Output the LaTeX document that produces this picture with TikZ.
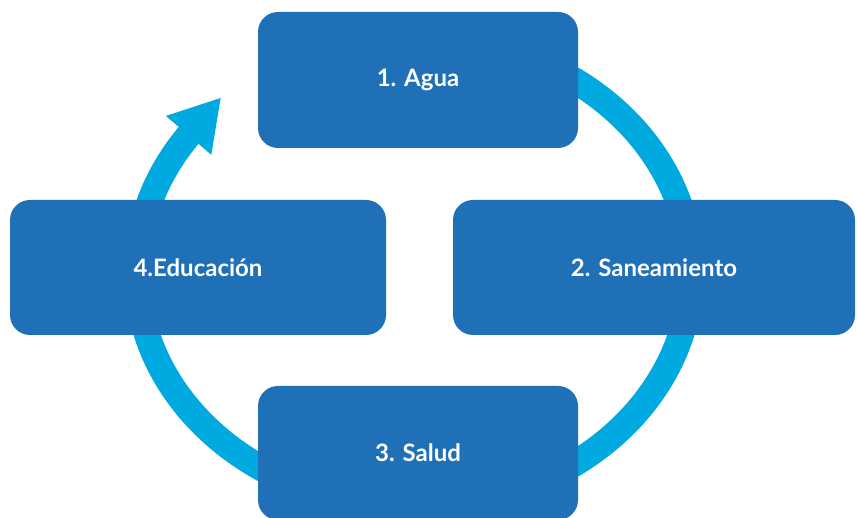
\documentclass[tikz,border=0pt]{standalone}
\usepackage{fontspec}
\setmainfont{Lato}
\usetikzlibrary{arrows.meta}
\definecolor{boxblue}{HTML}{1F70B7}
\definecolor{ringblue}{HTML}{00A9E0}

\begin{document}
\begin{tikzpicture}[x=0.5pt,y=0.5pt,
  paso/.style={rounded corners=10pt,fill=boxblue,text=white,inner sep=0pt,
    font=\fontsize{12}{14}\selectfont\bfseries},
  ciclo/.style={ringblue,line width=13pt,shorten >=-24pt,
    -{Triangle[length=25pt,width=28pt]}}]
\useasboundingbox (0,0) rectangle (857,518);

\coordinate (C) at (414,246);
\draw[ciclo] (C) ++(60:138.5pt and 117.5pt)
  arc[start angle=60,end angle=-216,x radius=138.5pt,y radius=117.5pt];

\node[paso,minimum width=160pt,minimum height=68pt] (agua) at (418,438) {1. Agua};
\node[paso,minimum width=201pt,minimum height=67.5pt] (saneamiento) at (654,250.5) {2. Saneamiento};
\node[paso,minimum width=160pt,minimum height=67pt] (salud) at (418,65) {3. Salud};
\node[paso,minimum width=188pt,minimum height=67.5pt] (educacion) at (198,250.5) {4.Educación};
\end{tikzpicture}
\end{document}
